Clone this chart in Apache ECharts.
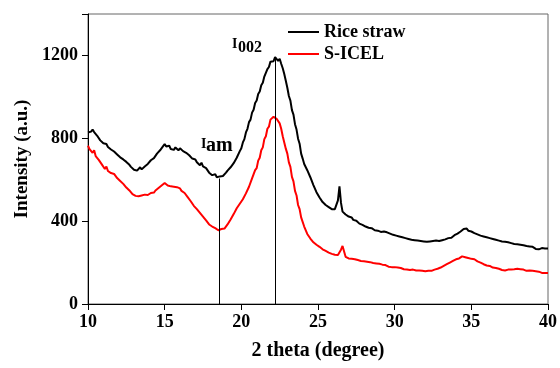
<!DOCTYPE html>
<html>
<head>
<meta charset="utf-8">
<script src="https://cdn.jsdelivr.net/npm/echarts@6/dist/echarts.min.js"></script>
<style>
html,body{margin:0;padding:0;background:#fff;}
#chart{width:560px;height:368px;}
</style>
</head>
<body>
<div id="chart"></div>
<script>
// Measurement grid: 2 theta from 10 to 40 deg, step 0.1 deg
const thetaStart = 10;
const thetaStep = 0.1;
const pointCount = 301;

const seriesNames = ['Rice straw', 'S-ICEL'];

// Rice straw intensity (a.u.), one row per degree (10.0-10.9, 11.0-11.9, ...)
const riceStraw = [
  828, 836, 832, 842, 830, 822, 812, 805, 790, 786,
  776, 768, 772, 758, 752, 746, 750, 736, 728, 722,
  716, 708, 712, 698, 694, 686, 680, 672, 662, 658,
  648, 656, 644, 652, 660, 650, 658, 664, 672, 676,
  680, 694, 698, 704, 708, 726, 724, 742, 740, 762,
  772, 760, 752, 764, 748, 752, 744, 756, 750, 742,
  752, 744, 738, 742, 730, 724, 718, 712, 702, 706,
  698, 684, 686, 670, 682, 664, 660, 656, 650, 634,
  630, 622, 614, 626, 612, 608, 616, 610, 618, 626,
  634, 644, 648, 660, 664, 680, 688, 706, 714, 738,
  752, 780, 796, 828, 846, 878, 890, 924, 938, 970,
  982, 1014, 1026, 1056, 1068, 1098, 1104, 1134, 1144, 1170,
  1178, 1172, 1192, 1186, 1174, 1184, 1160, 1138, 1110, 1078,
  1044, 1004, 982, 936, 914, 868, 842, 798, 774, 726,
  702, 676, 672, 646, 640, 612, 604, 574, 566, 540,
  536, 514, 510, 492, 498, 478, 484, 468, 474, 458,
  464, 458, 452, 500, 568, 488, 446, 440, 432, 426,
  422, 414, 418, 406, 398, 402, 396, 388, 392, 382,
  380, 374, 376, 368, 364, 366, 360, 356, 362, 354,
  352, 348, 344, 350, 342, 346, 338, 340, 342, 334,
  336, 330, 334, 326, 328, 322, 324, 318, 320, 314,
  316, 310, 314, 308, 312, 306, 310, 304, 308, 302,
  306, 300, 308, 302, 298, 304, 300, 306, 298, 304,
  302, 308, 306, 312, 316, 318, 322, 320, 328, 332,
  336, 340, 344, 350, 356, 362, 358, 364, 354, 352,
  350, 346, 342, 344, 336, 334, 330, 328, 326, 320,
  322, 316, 318, 312, 314, 308, 310, 304, 306, 302,
  302, 298, 300, 294, 298, 292, 294, 288, 290, 286,
  288, 282, 286, 280, 284, 278, 280, 274, 278, 272,
  276, 270, 266, 272, 264, 268, 270, 262, 268, 264,
  268
];

// S-ICEL intensity (a.u.)
const sIcel = [
  764, 748, 752, 730, 742, 714, 712, 696, 692, 674,
  668, 652, 664, 642, 644, 632, 632, 628, 622, 608,
  608, 594, 594, 580, 578, 562, 562, 548, 546, 530,
  528, 522, 530, 520, 526, 524, 518, 528, 522, 526,
  532, 536, 542, 538, 548, 556, 560, 564, 572, 576,
  584, 578, 572, 580, 568, 572, 566, 560, 564, 556,
  558, 546, 552, 536, 536, 516, 514, 496, 492, 474,
  474, 458, 456, 440, 438, 422, 420, 404, 400, 384,
  380, 374, 376, 366, 362, 356, 350, 362, 358, 364,
  372, 384, 388, 408, 412, 434, 440, 462, 466, 484,
  486, 506, 508, 534, 538, 566, 574, 606, 614, 646,
  656, 692, 706, 742, 756, 796, 810, 846, 856, 890,
  896, 904, 900, 894, 898, 872, 846, 810, 780, 750,
  726, 684, 662, 614, 592, 546, 524, 478, 458, 418,
  410, 374, 366, 338, 336, 316, 316, 298, 300, 286,
  284, 276, 270, 264, 262, 256, 252, 248, 246, 242,
  244, 238, 240, 236, 242, 262, 280, 276, 228, 222,
  220, 214, 218, 212, 216, 210, 212, 206, 208, 204,
  206, 200, 204, 198, 202, 196, 198, 192, 196, 190,
  194, 188, 190, 184, 188, 186, 180, 184, 178, 182,
  178, 174, 176, 170, 174, 172, 168, 170, 166, 168,
  164, 162, 166, 160, 162, 158, 162, 156, 160, 156,
  158, 154, 160, 156, 160, 162, 166, 164, 170, 172,
  176, 180, 184, 186, 192, 196, 200, 204, 208, 212,
  216, 222, 220, 226, 230, 228, 226, 224, 222, 220,
  218, 214, 216, 210, 206, 204, 200, 196, 192, 188,
  186, 182, 184, 178, 176, 172, 174, 168, 170, 166,
  164, 166, 162, 168, 166, 170, 166, 172, 168, 172,
  170, 166, 168, 164, 166, 164, 160, 166, 162, 158,
  160, 156, 158, 152, 156, 154, 150, 154, 150, 152,
  150
];

// Reference lines (I_am and I_002 positions)
const markerTheta = [18.57, 22.23];
const markerTop = [606, 1190];

// Axis ticks
const xTicks = [10, 15, 20, 25, 30, 35, 40];
const yTicks = [0, 400, 800, 1200];

const theta = [];
for (let i = 0; i < pointCount; i++) theta.push(+(thetaStart + i * thetaStep).toFixed(1));
const toPairs = (vals) => vals.map((v, i) => [theta[i], v]);

const FONT = '"Liberation Serif", "Times New Roman", serif';

const chart = echarts.init(document.getElementById('chart'), null, {renderer: 'canvas'});
chart.setOption({
  animation: false,
  backgroundColor: '#fff',
  grid: {left: 88, right: 12, top: 14, bottom: 64, show: true, borderColor: '#666', borderWidth: 1},
  legend: {
    data: seriesNames.map((n) => ({name: n, icon: 'rect'})),
    orient: 'vertical',
    left: 283,
    top: 18,
    itemWidth: 31,
    itemHeight: 2,
    itemGap: 4,
    textStyle: {fontFamily: FONT, fontWeight: 'bold', fontSize: 18, color: '#000'}
  },
  xAxis: {
    type: 'value',
    min: xTicks[0],
    max: xTicks[xTicks.length - 1],
    interval: 5,
    name: '2 theta (degree)',
    nameLocation: 'middle',
    nameGap: 37,
    nameTextStyle: {fontFamily: FONT, fontWeight: 'bold', fontSize: 20, color: '#000'},
    axisLine: {lineStyle: {color: '#000', width: 1}},
    axisTick: {inside: false, length: 6, lineStyle: {color: '#000'}},
    axisLabel: {fontFamily: FONT, fontWeight: 'bold', fontSize: 18, color: '#000', margin: 9},
    splitLine: {show: false}
  },
  yAxis: {
    type: 'value',
    min: yTicks[0],
    max: 1400,
    interval: 400,
    name: 'Intensity (a.u.)',
    nameLocation: 'middle',
    nameGap: 56,
    nameTextStyle: {fontFamily: FONT, fontWeight: 'bold', fontSize: 19, color: '#000'},
    axisLine: {show: true, lineStyle: {color: '#000', width: 1}},
    axisTick: {show: true, inside: false, length: 6, lineStyle: {color: '#000'}},
    axisLabel: {
      fontFamily: FONT, fontWeight: 'bold', fontSize: 18, color: '#000', margin: 10,
      formatter: (v) => (yTicks.indexOf(v) >= 0 ? String(v) : '')
    },
    splitLine: {show: false}
  },
  series: [
    {
      name: seriesNames[0],
      type: 'line',
      data: toPairs(riceStraw),
      showSymbol: false,
      symbol: 'none',
      lineStyle: {color: '#000', width: 2},
      itemStyle: {color: '#000'},
      z: 3,
      markLine: {
        silent: true,
        symbol: 'none',
        label: {show: false},
        lineStyle: {color: '#000', width: 1, type: 'solid'},
        data: markerTheta.map((t, i) => [{coord: [t, 0]}, {coord: [t, markerTop[i]]}])
      }
    },
    {
      name: seriesNames[1],
      type: 'line',
      data: toPairs(sIcel),
      showSymbol: false,
      symbol: 'none',
      lineStyle: {color: '#ff0000', width: 2},
      itemStyle: {color: '#ff0000'},
      z: 2
    }
  ],
  graphic: [
    {type: 'text', left: 232, top: 37, style: {text: 'I', font: 'bold 14px ' + FONT, fill: '#000'}},
    {type: 'text', left: 238, top: 40, style: {text: '002', font: 'bold 16px ' + FONT, fill: '#000'}},
    {type: 'text', left: 201, top: 137, style: {text: 'I', font: 'bold 14px ' + FONT, fill: '#000'}},
    {type: 'text', left: 206, top: 136, style: {text: 'am', font: 'bold 20px ' + FONT, fill: '#000'}}
  ]
});
</script>
</body>
</html>
